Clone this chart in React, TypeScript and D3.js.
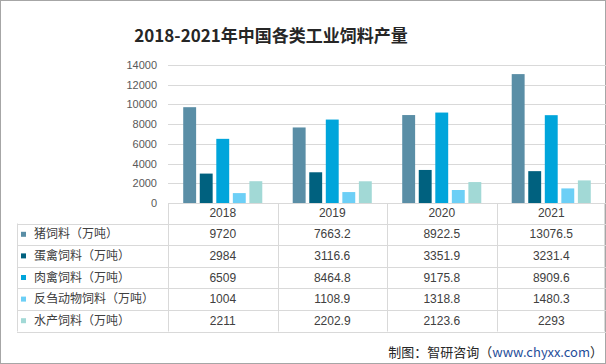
import React from 'react'
import * as d3 from 'd3'

const years = ['2018', '2019', '2020', '2021']
const seriesNames = ['猪饲料（万吨）', '蛋禽饲料（万吨）', '肉禽饲料（万吨）', '反刍动物饲料（万吨）', '水产饲料（万吨）']
const pigFeed = [9720, 7663.2, 8922.5, 13076.5]
const layerFeed = [2984, 3116.6, 3351.9, 3231.4]
const broilerFeed = [6509, 8464.8, 9175.8, 8909.6]
const ruminantFeed = [1004, 1108.9, 1318.8, 1480.3]
const aquaFeed = [2211, 2202.9, 2123.6, 2293]
const seriesValues = [pigFeed, layerFeed, broilerFeed, ruminantFeed, aquaFeed]
const colors = ['#5A8EA6', '#00617F', '#00A5DB', '#6CCFF6', '#A2D9D6']
const yTicks = [0, 2000, 4000, 6000, 8000, 10000, 12000, 14000]

const W = 606
const H = 364
const plotLeft = 168
const plotRight = 606
const tableLeft = 17
const axisY = 203
const rowH = 21.6
const headerH = 20.5
const gridColor = '#D9D9D9'
const font = '"Liberation Sans", "Noto Sans CJK SC", sans-serif'

export default function App() {
  const x0 = d3.scaleBand<string>().domain(years).range([plotLeft, plotRight]).padding(0)
  const x1 = d3
    .scaleBand<number>()
    .domain(d3.range(seriesNames.length))
    .range([0, x0.bandwidth()])
    .paddingInner(0.22)
    .paddingOuter(0.92)
  const y = d3.scaleLinear().domain([0, 14000]).range([axisY, 65])

  const tableTop = axisY + headerH
  const tableBottom = tableTop + rowH * seriesNames.length

  return (
    <div style={{ position: 'absolute', left: 0, top: 0 }}>
      <svg width={W} height={H} style={{ display: 'block', fontFamily: font }}>
        <rect x={0} y={0} width={W} height={H} fill="#fff" />
        <rect x={0.5} y={0.5} width={W - 1} height={H - 1} fill="none" stroke="#A6A6A6" />

        <text
          x={271}
          y={42}
          textAnchor="middle"
          fontSize={17}
          fontWeight="bold"
          fill="#262626"
          fontFamily='"Noto Sans CJK SC", sans-serif'
        >
          2018-2021年中国各类工业饲料产量
        </text>

        {/* gridlines + y labels */}
        {yTicks.map((t) => (
          <g key={t}>
            {t > 0 && (
              <line x1={plotLeft} x2={plotRight} y1={Math.round(y(t)) + 0.5} y2={Math.round(y(t)) + 0.5} stroke={gridColor} />
            )}
            <text x={157} y={y(t) + 4} textAnchor="end" fontSize={11} fill="#595959">
              {t}
            </text>
          </g>
        ))}

        {/* bars */}
        {years.map((yr, i) => (
          <g key={yr} transform={`translate(${x0(yr)},0)`}>
            {seriesValues.map((vals, s) => (
              <rect
                key={s}
                x={x1(s)}
                y={y(vals[i])}
                width={x1.bandwidth()}
                height={axisY - y(vals[i])}
                fill={colors[s]}
              />
            ))}
          </g>
        ))}

        {/* table lines */}
        <line x1={plotLeft} x2={plotRight} y1={axisY + 0.5} y2={axisY + 0.5} stroke={gridColor} />
        {d3.range(seriesNames.length + 1).map((r) => (
          <line
            key={r}
            x1={tableLeft}
            x2={plotRight}
            y1={Math.round(tableTop + r * rowH) + 0.5}
            y2={Math.round(tableTop + r * rowH) + 0.5}
            stroke={gridColor}
          />
        ))}
        <line x1={tableLeft + 0.5} x2={tableLeft + 0.5} y1={tableTop} y2={tableBottom} stroke={gridColor} />
        {years.map((yr) => (
          <line
            key={yr}
            x1={Math.round(x0(yr)!) + 0.5}
            x2={Math.round(x0(yr)!) + 0.5}
            y1={axisY}
            y2={tableBottom}
            stroke={gridColor}
          />
        ))}
        <line x1={plotRight - 1.5} x2={plotRight - 1.5} y1={axisY} y2={tableBottom} stroke={gridColor} />

        {/* header */}
        {years.map((yr) => (
          <text
            key={yr}
            x={x0(yr)! + x0.bandwidth() / 2}
            y={axisY + headerH / 2 + 4}
            textAnchor="middle"
            fontSize={12}
            fill="#404040"
          >
            {yr}
          </text>
        ))}

        {/* rows */}
        {seriesNames.map((name, s) => {
          const cy = tableTop + rowH * s + rowH / 2
          return (
            <g key={name}>
              <rect x={21} y={cy - 2.5} width={5} height={5} fill={colors[s]} />
              <text x={34} y={cy + 4} fontSize={12} fill="#404040" fontFamily='"Noto Sans CJK SC", sans-serif'>
                {name}
              </text>
              {years.map((yr, i) => (
                <text
                  key={yr}
                  x={x0(yr)! + x0.bandwidth() / 2}
                  y={cy + 4}
                  textAnchor="middle"
                  fontSize={12}
                  fill="#404040"
                >
                  {seriesValues[s][i]}
                </text>
              ))}
            </g>
          )
        })}

        <text x={603} y={357} textAnchor="end" fontSize={13} fill="#262626" fontFamily='"Noto Sans CJK SC", sans-serif'>
          制图：智研咨询（<tspan fill="#1F4E9A">www.chyxx.com</tspan>）
        </text>
      </svg>
    </div>
  )
}
